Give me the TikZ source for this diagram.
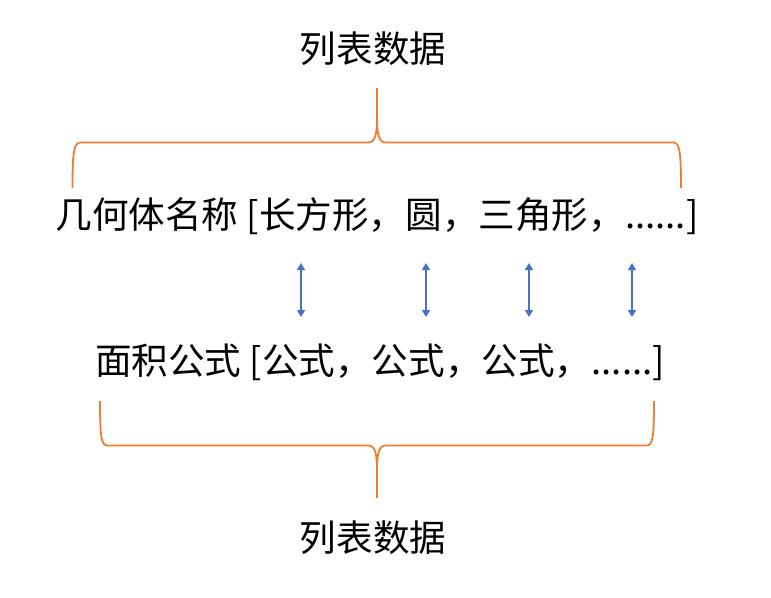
\documentclass[tikz,border=0pt]{standalone}
\usepackage{fontspec}
\setmainfont{Noto Sans CJK SC}
\usetikzlibrary{arrows.meta}
\definecolor{cBrace}{HTML}{ED7D31}
\definecolor{cLink} {HTML}{4472C4}
\tikzset{
  listtext/.style={font=\fontsize{36.6}{42}\selectfont, inner sep=0pt},
  braceline/.style={cBrace, line width=1.8pt},
  linkarrow/.style={cLink, line width=1.6pt,
    {Triangle[width=8pt,length=7pt]}-{Triangle[width=8pt,length=7pt]}},
}

\begin{document}
\begin{tikzpicture}[x=1pt, y=-1pt]
  \useasboundingbox (0,0) rectangle (771,597);
  % titles and the two lists
  \node[listtext] (topTitle)    at (373,49)  {列表数据};
  \node[listtext] (shapeList)   at (377,216) {几何体名称 [长方形，圆，三角形，......]};
  \node[listtext] (areaList)    at (380,362) {面积公式 [公式，公式，公式，......]};
  \node[listtext] (bottomTitle) at (373,538) {列表数据};
  % top brace
  \coordinate (topTip) at (377,88);
  \draw[braceline] (72.5,188) .. controls (72.5,150) and (74,142.5) .. (81,142.5)
        -- (368,142.5) .. controls (375,142.5) and (377,135) .. (377,118) -- (topTip);
  \draw[braceline] (681,188) .. controls (681,150) and (679.5,142.5) .. (673,142.5)
        -- (386,142.5) .. controls (379,142.5) and (377,135) .. (377,118);
  % bottom brace
  \coordinate (botTip) at (377,498);
  \draw[braceline] (100,401) .. controls (100,440) and (101.5,445.5) .. (108,445.5)
        -- (368,445.5) .. controls (375,445.5) and (377,453) .. (377,470) -- (botTip);
  \draw[braceline] (654,401) .. controls (654,440) and (652.5,445.5) .. (646,445.5)
        -- (386,445.5) .. controls (379,445.5) and (377,453) .. (377,470);
  % links between the lists
  \foreach \ax [count=\i] in {301,426,529,632}{
    \coordinate (up\i) at (\ax,263);
    \coordinate (dn\i) at (\ax,317);
    \draw[linkarrow] (up\i) -- (dn\i);
  }
\end{tikzpicture}
\end{document}
